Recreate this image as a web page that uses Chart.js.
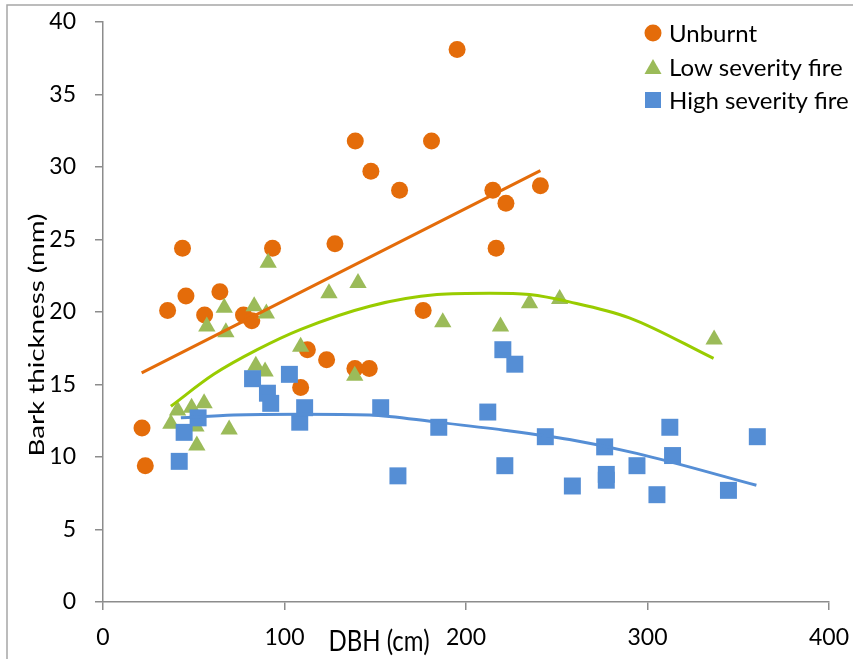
<!DOCTYPE html>
<html>
<head>
<meta charset="utf-8">
<script src="https://cdn.jsdelivr.net/npm/chart.js@4.4.0/dist/chart.umd.min.js"></script>
<style>
    html, body { margin: 0; padding: 0; background: #ffffff; }
    #chart-box { width: 853px; height: 659px; }
</style>
</head>
<body>
<div id="chart-box"><canvas id="chart-bark" width="853" height="659"></canvas></div>
<script>
// values
var unburntX = [21.5, 23.3, 35.6, 43.8, 45.7, 56, 64.4, 77.4, 82, 93.4, 108.9, 112.6, 123.2, 127.8, 138.8, 139, 146.7, 147.6, 163.4, 176.4, 181, 195.1, 214.8, 216.6, 222, 241];
var unburntY = [12.0, 9.4, 20.1, 24.4, 21.1, 19.8, 21.4, 19.8, 19.4, 24.4, 14.8, 17.4, 16.7, 24.7, 16.1, 31.8, 16.1, 29.7, 28.4, 20.1, 31.8, 38.1, 28.4, 24.4, 27.5, 28.7];

var lowX = [37.4, 41.1, 48.8, 51.2, 51.7, 55.7, 57.2, 66.8, 67.7, 69.5, 83.3, 84.2, 89.3, 90, 91, 108.9, 124.5, 138.7, 140.5, 187.2, 219, 235, 251.6, 336.7];
var lowY = [12.3, 13.2, 13.4, 12.1, 10.8, 13.7, 19.0, 20.3, 18.6, 11.9, 20.4, 16.3, 15.9, 19.9, 23.4, 17.6, 21.3, 15.6, 22.0, 19.3, 19.0, 20.6, 20.9, 18.1];

var highX = [42, 44.7, 52.4, 82.4, 90.6, 92.4, 102.7, 108.4, 111.1, 153, 162.5, 185, 212, 220.3, 221.4, 226.9, 243.7, 258.6, 276.4, 277.3, 277.3, 294.2, 305.2, 312.3, 313.8, 344.6, 360.5];
var highY = [9.7, 11.7, 12.7, 15.4, 14.4, 13.7, 15.7, 12.4, 13.4, 13.4, 8.7, 12.05, 13.1, 17.4, 9.4, 16.4, 11.4, 8.0, 10.7, 8.8, 8.4, 9.4, 7.4, 12.05, 10.1, 7.7, 11.4];

// trend lines, also
var unburntTrendX = [21.3, 241];
var unburntTrendY = [15.8, 29.75];
var lowTrendX = [37.4, 61, 85, 109, 147, 184, 213, 235, 257, 290, 336.4];
var lowTrendY = [13.5, 15.7, 17.4, 18.8, 20.4, 21.2, 21.3, 21.2, 20.7, 19.6, 16.8];
var highTrendX = [42.9, 72, 109, 147, 184, 221, 257, 294, 360];
var highTrendY = [12.7, 12.9, 12.95, 12.9, 12.4, 11.85, 11.2, 10.25, 8.05];

var seriesNames = ["Unburnt", "Low severity fire", "High severity fire"];
var xTicks = [0, 100, 200, 300, 400];

var orange = "#E46C0A";
var green = "#9BBB59";
var greenLine = "#99CC00";
var blue = "#558ED5";
var axisGrey = "#8C8C8C";
var fontName = "Lato, 'Open Sans', sans-serif";

function toPoints(xs, ys) {
    var pts = [];
    for (var i = 0; i < xs.length; i++) {
        pts.push({ x: xs[i], y: ys[i] });
    }
    return pts;
}

function trendSet(xs, ys, color) {
    return {
        type: "line",
        data: toPoints(xs, ys),
        borderColor: color,
        borderWidth: 3,
        pointRadius: 0,
        showLine: true,
        fill: false,
        cubicInterpolationMode: "monotone",
        order: 0
    };
}

// frame, axis titles and the legend are painted by hand
var extrasPlugin = {
    id: "extras",
    beforeDraw: function (chart) {
        var c = chart.ctx;
        c.save();
        c.strokeStyle = "#A6A6A6";
        c.lineWidth = 1.5;
        c.strokeRect(7, 5, 900, 700);
        c.restore();
    },
    afterDraw: function (chart) {
        var c = chart.ctx;
        c.save();
        c.fillStyle = "#000000";
        c.textAlign = "center";
        c.textBaseline = "middle";
        // the reference text looks stretched, so scale it a bit
        c.font = "24px " + fontName;
        c.save();
        c.translate(379, 642);
        c.scale(1, 1.2);
        c.fillText("DBH (cm)", 0, 0);
        c.restore();

        c.font = "22px " + fontName;
        var w = c.measureText("Bark thickness (mm)").width;
        c.translate(37, 335);
        c.rotate(-Math.PI / 2);
        c.scale(243 / w, 1);
        c.fillText("Bark thickness (mm)", 0, 0);
        c.restore();

        // legend
        var rows = [33, 67, 100];
        c.save();
        c.font = "24px " + fontName;
        c.textAlign = "left";
        c.textBaseline = "middle";
        for (var i = 0; i < rows.length; i++) {
            var y = rows[i];
            if (i == 0) {
                c.fillStyle = orange;
                c.beginPath();
                c.arc(653, y, 8.5, 0, Math.PI * 2);
                c.fill();
            } else if (i == 1) {
                c.fillStyle = green;
                c.beginPath();
                c.moveTo(653, y - 8);
                c.lineTo(661.5, y + 7);
                c.lineTo(644.5, y + 7);
                c.closePath();
                c.fill();
            } else {
                c.fillStyle = blue;
                c.fillRect(645, y - 8, 16, 16);
            }
            c.fillStyle = "#000000";
            c.fillText(seriesNames[i], 669, y + 1);
        }
        c.restore();
    }
};

var ctx = document.getElementById("chart-bark");
var barkChart = new Chart(ctx, {
    type: "scatter",
    data: {
        datasets: [
            trendSet(unburntTrendX, unburntTrendY, orange),
            trendSet(lowTrendX, lowTrendY, greenLine),
            trendSet(highTrendX, highTrendY, blue),
            {
                label: seriesNames[2],
                data: toPoints(highX, highY),
                pointStyle: "rect",
                pointRadius: 12,
                backgroundColor: blue,
                borderWidth: 0,
                order: 1
            },
            {
                label: seriesNames[1],
                data: toPoints(lowX, lowY),
                pointStyle: "triangle",
                pointRadius: 10,
                backgroundColor: green,
                borderWidth: 0,
                order: 2
            },
            {
                label: seriesNames[0],
                data: toPoints(unburntX, unburntY),
                pointStyle: "circle",
                pointRadius: 8.5,
                backgroundColor: orange,
                borderWidth: 0,
                order: 3
            }
        ]
    },
    options: {
        responsive: false,
        animation: false,
        devicePixelRatio: 1,
        layout: {
            padding: { left: 0, right: 24, top: 22, bottom: 0 }
        },
        plugins: {
            legend: { display: false },
            tooltip: { enabled: false }
        },
        scales: {
            x: {
                type: "linear",
                min: 0,
                max: 400,
                afterBuildTicks: function (scale) {
                    scale.ticks = xTicks.map(function (v) { return { value: v }; });
                },
                afterFit: function (scale) {
                    scale.height = 57;
                    scale.paddingLeft = 0;
                    scale.paddingRight = 0;
                },
                ticks: {
                    color: "#000000",
                    font: { family: fontName, size: 23 },
                    padding: 14,
                    maxRotation: 0
                },
                grid: {
                    drawOnChartArea: false,
                    drawTicks: true,
                    tickLength: 8,
                    color: axisGrey,
                    lineWidth: 1.5
                },
                border: { color: axisGrey, width: 1.5 }
            },
            y: {
                type: "linear",
                min: 0,
                max: 40,
                afterFit: function (scale) {
                    scale.width = 103;
                    scale.paddingTop = 0;
                    scale.paddingBottom = 0;
                },
                ticks: {
                    stepSize: 5,
                    color: "#000000",
                    font: { family: fontName, size: 23 },
                    padding: 19
                },
                grid: {
                    drawOnChartArea: false,
                    drawTicks: true,
                    tickLength: 8,
                    color: axisGrey,
                    lineWidth: 1.5
                },
                border: { color: axisGrey, width: 1.5 }
            }
        }
    },
    plugins: [extrasPlugin]
});
</script>
</body>
</html>
